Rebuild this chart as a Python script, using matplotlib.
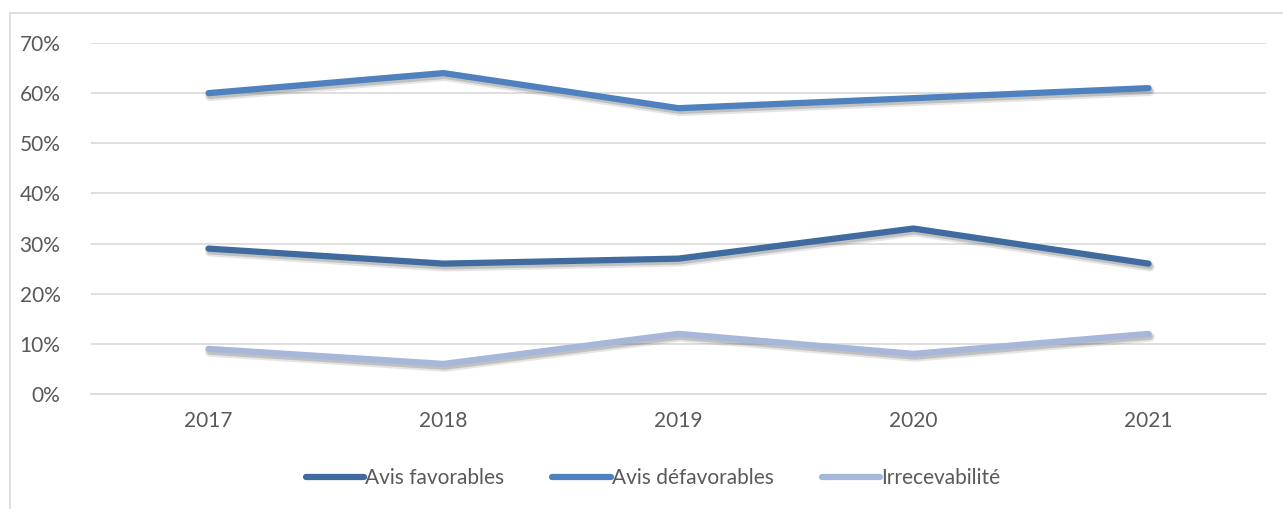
import matplotlib
matplotlib.use("Agg")
import matplotlib.pyplot as plt
import matplotlib.patheffects as pe
from matplotlib.patches import Rectangle
from matplotlib.ticker import FuncFormatter, MultipleLocator

# Avis rendus par année (en %)
years = ["2017", "2018", "2019", "2020", "2021"]
favorables = [29, 26, 27, 33, 26]
defavorables = [60, 64, 57, 59, 61]
irrecevabilite = [9, 6, 12, 8, 12]

series = [
    ("Avis favorables", favorables, "#3f6b9f"),
    ("Avis défavorables", defavorables, "#4e81bd"),
    ("Irrecevabilité", irrecevabilite, "#a6b7d9"),
]

plt.rcParams["font.family"] = ["Lato", "DejaVu Sans"]

fig = plt.figure(figsize=(12.83, 5.09), dpi=100)
ax = fig.add_axes([91 / 1283, 1 - 394 / 509, (1266 - 91) / 1283, (394 - 43) / 509])

# cadre du graphique
fig.patches.append(Rectangle((10 / 1283, -0.1), 1.2, 1 - 13 / 509 + 0.1,
                             transform=fig.transFigure, fill=False,
                             edgecolor="#d9d9d9", linewidth=1.2))

# ombre douce sous les courbes
shadow = [pe.SimpleLineShadow(offset=(1.0, -2.2), shadow_color="#555555", alpha=0.15,
                              linewidth=7.0),
          pe.SimpleLineShadow(offset=(1.0, -2.0), shadow_color="#555555", alpha=0.25),
          pe.Normal()]

x = range(len(years))
for name, vals, col in series:
    ax.plot(x, [v / 100 for v in vals], color=col, linewidth=4.5,
            solid_capstyle="round", solid_joinstyle="round",
            label=name, path_effects=shadow)

ax.set_xlim(-0.5, len(years) - 0.5)
ax.set_ylim(0, 0.7)
ax.yaxis.set_major_locator(MultipleLocator(0.1))
ax.yaxis.set_major_formatter(FuncFormatter(lambda v, p: f"{round(v * 100)}%"))
ax.set_xticks(list(x))
ax.set_xticklabels(years)
ax.grid(axis="y", color="#d9d9d9", linewidth=1.2)
ax.set_axisbelow(True)
for s in ["top", "right", "left"]:
    ax.spines[s].set_visible(False)
ax.spines["bottom"].set_color("#d9d9d9")
ax.spines["bottom"].set_linewidth(1.2)
ax.tick_params(length=0, labelsize=15, colors="#595959")
ax.tick_params(axis="x", pad=12)
ax.tick_params(axis="y", pad=22)

leg = fig.legend(loc="center", bbox_to_anchor=(653 / 1283, 1 - 478 / 509), ncol=3,
                 frameon=False, fontsize=15, handlelength=2.8, handletextpad=0.05,
                 columnspacing=2.3)
for t in leg.get_texts():
    t.set_color("#595959")
for h in leg.get_lines():
    h.set_path_effects([])

fig.savefig("out.png", dpi=100, facecolor="white")
